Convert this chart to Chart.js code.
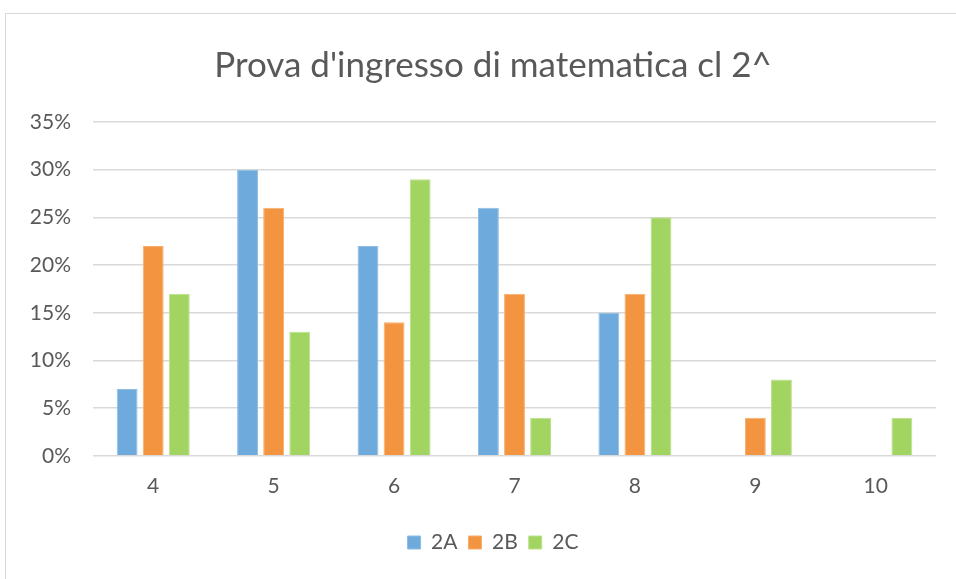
<!DOCTYPE html>
<html>
<head>
<meta charset="utf-8">
<script src="https://cdn.jsdelivr.net/npm/chart.js@4.4.1/dist/chart.umd.min.js"></script>
<style>
html,body{margin:0;padding:0;background:#fff;width:956px;height:579px;overflow:hidden;}
#frame{position:absolute;left:5px;top:13px;width:980px;height:600px;border:1px solid #d9d9d9;box-sizing:border-box;}
#wrap{position:absolute;left:0;top:0;width:956px;height:579px;}
</style>
</head>
<body>
<div id="frame"></div>
<div id="wrap"><canvas id="c" width="956" height="579"></canvas></div>
<script>
const categories = ['4','5','6','7','8','9','10'];
const series2A = [7, 30, 22, 26, 15, 0, 0];
const series2B = [22, 26, 14, 17, 17, 4, 0];
const series2C = [17, 13, 29, 4, 25, 8, 4];
const seriesNames = ['2A','2B','2C'];
const yTicks = [0,5,10,15,20,25,30,35];

const font = "Lato, 'Open Sans', sans-serif";
const colors = ['#6EAADC','#F39441','#A2D462'];
const borders = ['#8DBDE4','#F7AE6E','#BCE08C'];

const shiftBlocks = {
  id: 'shiftBlocks',
  afterLayout(chart) {
    if (chart.titleBlock) chart.titleBlock.left += 22;
    if (chart.legend) chart.legend.left += 22;
  }
};

new Chart(document.getElementById('c'), {
  type: 'bar',
  data: {
    labels: categories,
    datasets: [series2A, series2B, series2C].map((d,i)=>({
      label: seriesNames[i],
      data: d,
      backgroundColor: colors[i],
      borderColor: borders[i],
      borderWidth: 1,
      categoryPercentage: 0.65,
      barPercentage: 0.8
    }))
  },
  plugins: [shiftBlocks],
  options: {
    responsive: false,
    animation: false,
    layout: {padding: {left: 28, right: 20, top: 20, bottom: 16}},
    plugins: {
      title: {
        display: true,
        text: "Prova d'ingresso di matematica cl 2^",
        color: '#595959',
        font: {family: font, size: 35, weight: 'normal'},
        padding: {top: 25, bottom: 35}
      },
      legend: {
        position: 'bottom',
        labels: {
          color: '#595959',
          font: {family: font, size: 21},
          boxWidth: 13, boxHeight: 13,
          padding: 11
        }
      },
      tooltip: {enabled: false}
    },
    scales: {
      x: {
        grid: {display: false, drawTicks: false},
        border: {display: false},
        afterFit: (s) => { s.height += 4; },
        ticks: {color: '#595959', font: {family: font, size: 21}, padding: 18}
      },
      y: {
        min: 0, max: 35,
        afterBuildTicks: (s) => { s.ticks = yTicks.map(v => ({value: v})); },
        afterFit: (s) => { s.width = 65; },
        grid: {color: '#d9d9d9', lineWidth: 1.5, drawTicks: false},
        border: {display: false},
        ticks: {color: '#595959', font: {family: font, size: 21}, padding: 22, callback: v => v + '%'}
      }
    }
  }
});
</script>
</body>
</html>
